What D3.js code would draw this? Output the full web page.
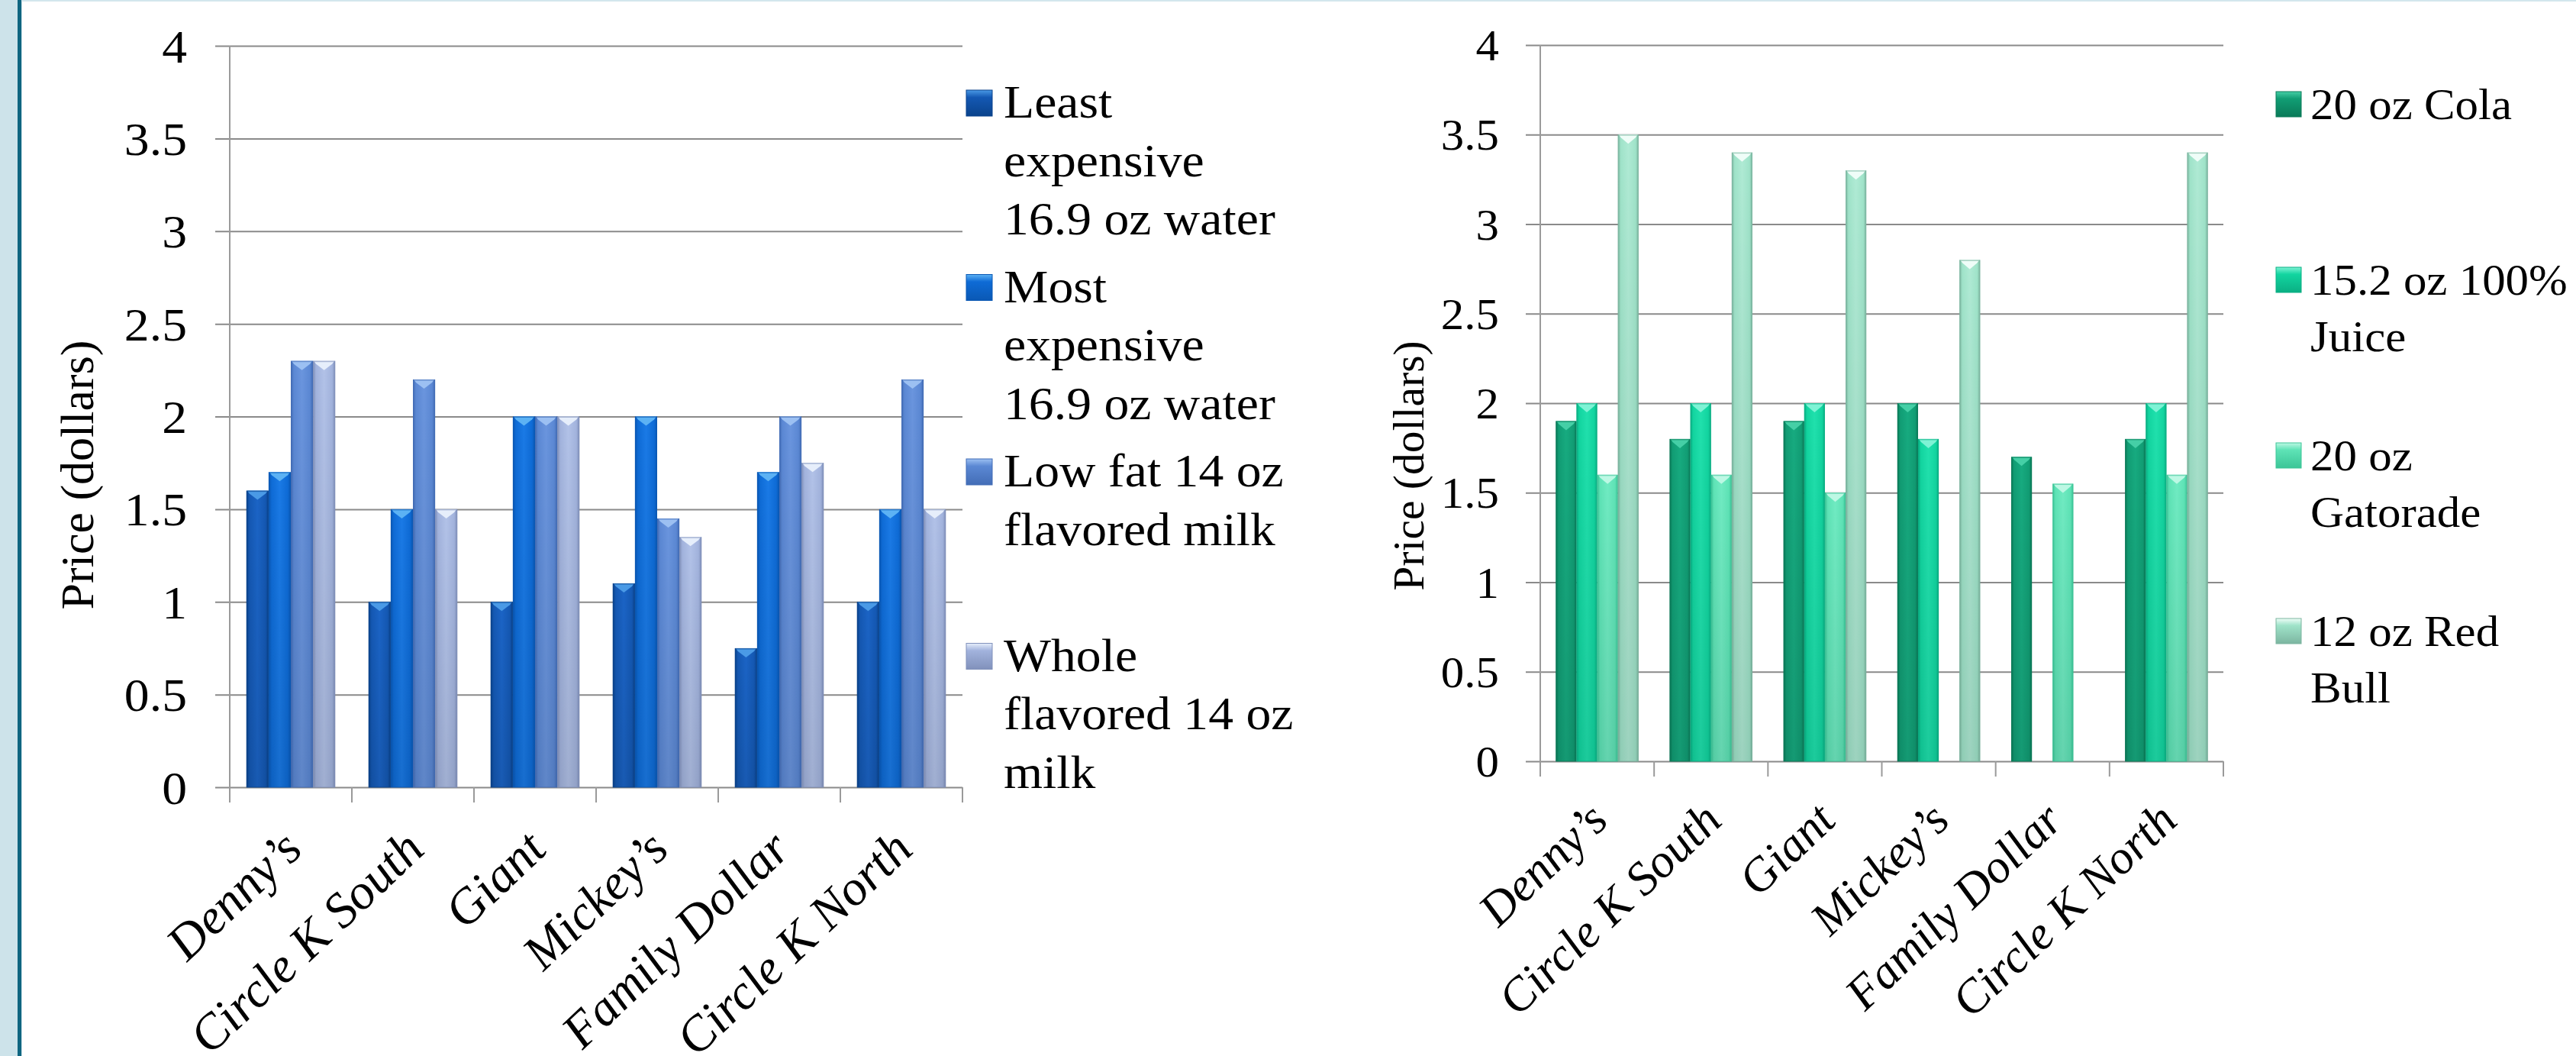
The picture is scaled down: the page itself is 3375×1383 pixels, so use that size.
<!DOCTYPE html>
<html><head><meta charset="utf-8">
<script src="https://cdn.jsdelivr.net/npm/d3@7"></script>
<style>html,body{margin:0;padding:0;background:#fff;overflow:hidden}</style>
</head><body><svg id="c" width="3375" height="1383"></svg>
<script>
// ---------- DATA ----------
const categories = ["Denny\u2019s", "Circle K South", "Giant", "Mickey\u2019s", "Family Dollar", "Circle K North"];

const waterMilkSeries = ["Least expensive 16.9 oz water", "Most expensive 16.9 oz water", "Low fat 14 oz flavored milk", "Whole flavored 14 oz milk"];
const leastExpensiveWater = [1.6, 1.0, 1.0, 1.1, 0.75, 1.0];
const mostExpensiveWater  = [1.7, 1.5, 2.0, 2.0, 1.7, 1.5];
const lowFatMilk          = [2.3, 2.2, 2.0, 1.45, 2.0, 2.2];
const wholeMilk           = [2.3, 1.5, 2.0, 1.35, 1.75, 1.5];
const waterMilkLegendLines = [["Least", "expensive", "16.9 oz water"], ["Most", "expensive", "16.9 oz water"], ["Low fat 14 oz", "flavored milk"], ["Whole", "flavored 14 oz", "milk"]];

const drinkSeries = ["20 oz Cola", "15.2 oz 100% Juice", "20 oz Gatorade", "12 oz Red Bull"];
const cola     = [1.9, 1.8, 1.9, 2.0, 1.7, 1.8];
const juice    = [2.0, 2.0, 2.0, 1.8, null, 2.0];
const gatorade = [1.6, 1.6, 1.5, null, 1.55, 1.6];
const redBull  = [3.5, 3.4, 3.3, 2.8, null, 3.4];
const drinkLegendLines = [["20 oz Cola"], ["15.2 oz 100%", "Juice"], ["20 oz", "Gatorade"], ["12 oz Red", "Bull"]];

const yTicks = [0, 0.5, 1, 1.5, 2, 2.5, 3, 3.5, 4];
const yTickLabels = ["0", "0.5", "1", "1.5", "2", "2.5", "3", "3.5", "4"];
const yTitle = "Price (dollars)";

// ---------- STYLE ----------
const blueColors = [
  {edge:"#0a438c", main:"#1458b3", light:"#1b64c6", cap:"#4a9ae6"},
  {edge:"#0a58b4", main:"#0e6bd6", light:"#1a7ae6", cap:"#5cb2f4"},
  {edge:"#436db6", main:"#5b88d4", light:"#6a95de", cap:"#9cc0f2"},
  {edge:"#8191bb", main:"#a2b3dd", light:"#b2c2e8", cap:"#e6eefb"}
];
const greenColors = [
  {edge:"#0a7a58", main:"#119d74", light:"#17ab80", cap:"#45cfa6"},
  {edge:"#0aaf83", main:"#12d5a0", light:"#20e1ad", cap:"#7ef3d5"},
  {edge:"#3cc597", main:"#5ee3b6", light:"#70ebc2", cap:"#bdf8e4"},
  {edge:"#7cb5a0", main:"#9fe3c9", light:"#afead4", cap:"#effdf8"}
];
const FONT = "'Liberation Serif', 'Times New Roman', serif";
const SX = 1.06;

const svg = d3.select("#c");
const defs = svg.append("defs");

// slide frame
svg.append("rect").attr("width", 3375).attr("height", 1383).attr("fill", "#fff");
svg.append("rect").attr("x", 0).attr("y", 0).attr("width", 23).attr("height", 1383).attr("fill", "#cde3ea");
svg.append("rect").attr("x", 23).attr("y", 0).attr("width", 5).attr("height", 1383).attr("fill", "#0f6580");
svg.append("rect").attr("x", 28).attr("y", 0).attr("width", 1).attr("height", 1383).attr("fill", "#cde3ea");
svg.append("rect").attr("x", 28).attr("y", 0).attr("width", 3347).attr("height", 2).attr("fill", "#d3e6ed");

const shade = defs.append("linearGradient").attr("id", "shade").attr("x1", 0).attr("y1", 0).attr("x2", 0).attr("y2", 1);
shade.append("stop").attr("offset", 0).attr("stop-color", "#000").attr("stop-opacity", 0);
shade.append("stop").attr("offset", 1).attr("stop-color", "#000").attr("stop-opacity", 0.10);

function drawChart(cfg) {
  const g = svg.append("g");
  const fs = cfg.fs;
  // gradients
  cfg.colors.forEach((c, i) => {
    const gh = defs.append("linearGradient").attr("id", cfg.id + "h" + i).attr("x1", 0).attr("y1", 0).attr("x2", 1).attr("y2", 0);
    [[0, c.edge], [0.14, c.main], [0.5, c.light], [0.86, c.main], [1, c.edge]].forEach(s =>
      gh.append("stop").attr("offset", s[0]).attr("stop-color", s[1]));
    const gv = defs.append("linearGradient").attr("id", cfg.id + "v" + i).attr("x1", 0).attr("y1", 0).attr("x2", 0).attr("y2", 1);
    [[0, c.cap], [0.28, c.main], [1, c.edge]].forEach(s =>
      gv.append("stop").attr("offset", s[0]).attr("stop-color", s[1]));
  });

  const x0 = d3.scaleBand().domain(categories).range([cfg.L, cfg.R])
    .paddingInner(1.5 / 5.5).paddingOuter(0.75 / 5.5);
  const x1 = d3.scaleBand().domain(d3.range(cfg.series.length)).range([0, x0.bandwidth()]);
  const y = d3.scaleLinear().domain([0, 4]).range([cfg.B, cfg.T]);

  // gridlines + y tick labels through d3 axis
  const ax = d3.axisLeft(y).tickValues(yTicks).tickFormat((d, i) => yTickLabels[i])
    .tickSizeInner(-(cfg.R - cfg.L + 19)).tickSizeOuter(0).tickPadding(cfg.labelGap);
  const axG = g.append("g").attr("transform", `translate(${cfg.L - 19},0)`).call(ax);
  axG.select(".domain").remove();
  axG.selectAll(".tick line").attr("stroke", "#8a8a8a").attr("stroke-width", 2);
  axG.selectAll(".tick text")
    .attr("x", null).attr("dy", null)
    .attr("transform", `translate(${-cfg.labelGap},${0.34 * fs}) scale(${SX},1)`)
    .attr("text-anchor", "end")
    .style("font-family", FONT).style("font-size", fs + "px").attr("fill", "#000");

  // vertical axis line and category tick marks
  g.append("line").attr("x1", cfg.L).attr("x2", cfg.L).attr("y1", y(4)).attr("y2", y(0) + 20)
    .attr("stroke", "#9a9a9a").attr("stroke-width", 2);
  const step = x0.step();
  g.selectAll(".ctick").data(d3.range(1, categories.length + 1)).join("line")
    .attr("x1", i => cfg.L + i * step).attr("x2", i => cfg.L + i * step)
    .attr("y1", y(0)).attr("y2", y(0) + 20).attr("stroke", "#9a9a9a").attr("stroke-width", 2);

  // bars
  const barData = [];
  categories.forEach((c, ci) => cfg.series.forEach((s, si) => {
    if (s[ci] != null) barData.push({c, si, v: s[ci]});
  }));
  const bars = g.append("g").selectAll("g").data(barData).join("g");
  bars.append("rect")
    .attr("x", d => x0(d.c) + x1(d.si)).attr("width", x1.bandwidth())
    .attr("y", d => y(d.v)).attr("height", d => y(0) - y(d.v))
    .attr("fill", d => `url(#${cfg.id}h${d.si})`);
  bars.append("rect")
    .attr("x", d => x0(d.c) + x1(d.si)).attr("width", x1.bandwidth())
    .attr("y", d => y(d.v)).attr("height", d => y(0) - y(d.v))
    .attr("fill", "url(#shade)");
  bars.append("path")
    .attr("d", d => {
      const x = x0(d.c) + x1(d.si), w = x1.bandwidth(), t = y(d.v);
      return `M${x + 1},${t}L${x + w - 1},${t}L${x + w - 4},${t + 4}L${x + w / 2},${t + 12}L${x + 4},${t + 4}Z`;
    })
    .attr("fill", d => cfg.colors[d.si].cap);
  bars.append("rect")
    .attr("x", d => x0(d.c) + x1(d.si) + 0.75).attr("width", x1.bandwidth() - 1.5)
    .attr("y", d => y(d.v) + 0.75).attr("height", d => y(0) - y(d.v) - 0.75)
    .attr("fill", "none").attr("stroke", d => cfg.colors[d.si].edge).attr("stroke-opacity", 0.6).attr("stroke-width", 1.5);

  // category labels
  const xfs = cfg.xfs;
  g.selectAll(".clabel").data(categories).join("text")
    .attr("transform", c => `translate(${x0(c) + x0.bandwidth() / 2 + 0.28 * xfs},${y(0) + 1.32 * xfs}) scale(${SX},1) rotate(-45)`)
    .attr("text-anchor", "end")
    .style("font-family", FONT).style("font-size", xfs + "px").style("font-style", "italic")
    .text(c => c);

  // y title
  g.append("text")
    .attr("transform", `translate(${cfg.titleX},${cfg.titleY}) rotate(-90)`)
    .attr("text-anchor", "middle")
    .style("font-family", FONT).style("font-size", fs + "px")
    .text(yTitle);

  // legend
  const lg = g.append("g");
  cfg.legendLines.forEach((lines, i) => {
    const base = cfg.legY + i * cfg.legSpacing;
    lg.append("rect").attr("x", cfg.legSqX).attr("y", base - 36).attr("width", cfg.legSq).attr("height", cfg.legSq)
      .attr("fill", `url(#${cfg.id}v${i})`).attr("stroke", cfg.colors[i].edge).attr("stroke-width", 1);
    lines.forEach((line, li) => {
      lg.append("text")
        .attr("transform", `translate(${cfg.legTextX},${base + li * cfg.lineH}) scale(${SX},1)`)
        .style("font-family", FONT).style("font-size", fs + "px")
        .text(line);
    });
  });
}

drawChart({
  id: "wm", L: 301, R: 1261, T: 60, B: 1031, fs: 62, xfs: 64, labelGap: 37,
  series: [leastExpensiveWater, mostExpensiveWater, lowFatMilk, wholeMilk],
  colors: blueColors, legendLines: waterMilkLegendLines,
  legSqX: 1266, legSq: 34, legTextX: 1315, legY: 154, legSpacing: 241.5, lineH: 76.5,
  titleX: 122, titleY: 622
});

drawChart({
  id: "dr", L: 2018, R: 2913, T: 59, B: 997, fs: 57.5, xfs: 61, labelGap: 35,
  series: [cola, juice, gatorade, redBull],
  colors: greenColors, legendLines: drinkLegendLines,
  legSqX: 2982, legSq: 33, legTextX: 3027, legY: 156, legSpacing: 230, lineH: 74,
  titleX: 1865, titleY: 610
});
</script>
</body></html>
